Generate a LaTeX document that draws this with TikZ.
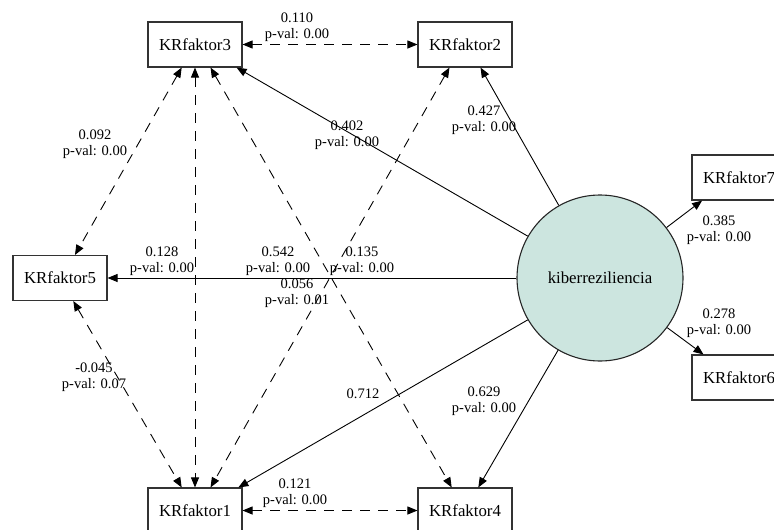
\documentclass[tikz,border=0pt]{standalone}
\usepackage{fontspec}
\setmainfont{Liberation Serif}
\usetikzlibrary{arrows.meta}
\definecolor{kibfill}{RGB}{204,229,223}

\begin{document}
\begin{tikzpicture}[
	x=1pt, y=-1pt,
	factor/.style={draw=black!80, line width=1.1pt, minimum width=94pt, minimum height=45pt, inner sep=0pt, font=\fontsize{16.8}{20}\selectfont},
	latent/.style={circle, draw=black!85, line width=1.1pt, fill=kibfill, minimum size=166pt, inner sep=0pt, font=\fontsize{16.8}{20}\selectfont},
	loading/.style={line width=0.9pt, -{Triangle[length=10pt,width=8pt]}},
	cov/.style={line width=0.9pt, dash pattern=on 10pt off 8pt, {Triangle[length=10pt,width=8pt]}-{Triangle[length=10pt,width=8pt]}},
	est/.style={align=center, inner sep=0pt, font=\fontsize{14.5}{16}\selectfont}
	]
	\useasboundingbox (0,0) rectangle (774,530);
	
	% --- NODI ---
	\node[latent] (kib) at (600,278) {kiberreziliencia};
	\node[factor] (kr3) at (195,44.5) {KRfaktor3};
	\node[factor] (kr2) at (465,44.5) {KRfaktor2};
	\node[factor] (kr5) at (60,278) {KRfaktor5};
	\node[factor] (kr1) at (195,510.5) {KRfaktor1};
	\node[factor] (kr4) at (465,510.5) {KRfaktor4};
	\node[factor] (kr7) at (739,177.5) {KRfaktor7};
	\node[factor] (kr6) at (739,377.5) {KRfaktor6};
	
	% --- CARICHI ---
	\draw[loading] (kib) -- (kr3.-29);
	\draw[loading] (kib) -- (kr2.-56);
	\draw[loading] (kib) -- (kr5);
	\draw[loading] (kib) -- (kr1.28);
	\draw[loading] (kib) -- (kr4.60);
	\draw[loading] (kib) -- (kr7.-148);
	\draw[loading] (kib) -- (kr6.147);
	
	% --- COVARIANZE ---
	\draw[cov] (kr3) -- (kr2);
	\draw[cov] (kr3.-120) -- (kr5.57);
	\draw[cov] (kr3) -- (kr1);
	\draw[cov] (kr3.-56) -- (kr4.120);
	\draw[cov] (kr2.-124) -- (kr1.56);
	\draw[cov] (kr5.-60) -- (kr1.120);
	\draw[cov] (kr1) -- (kr4);
	
	% --- ETICHETTE ---
	\node[est] (e32) at (297,27) {0.110\\p-val: 0.00};
	\node[est] (e35) at (95,144) {0.092\\p-val: 0.00};
	\node[est] (ek3) at (347,135) {0.402\\p-val: 0.00};
	\node[est] (ek2) at (484,120) {0.427\\p-val: 0.00};
	\node[est] (e31) at (162,261) {0.128\\p-val: 0.00};
	\node[est] (ek5) at (278,261) {0.542\\p-val: 0.00};
	\node[est] (e34) at (362,261) {0.135\\p-val: 0.00};
	\node[est] (e21) at (297,293.5) {0.056\\p-val: 0.01};
	\node[est] (ek7) at (719,230.5) {0.385\\p-val: 0.00};
	\node[est] (ek6) at (719,323.5) {0.278\\p-val: 0.00};
	\node[est] (e51) at (94,377.5) {-0.045\\p-val: 0.07};
	\node[est] (ek1) at (363,394) {0.712};
	\node[est] (ek4) at (484,401.5) {0.629\\p-val: 0.00};
	\node[est] (e14) at (295,493.5) {0.121\\p-val: 0.00};
	
\end{tikzpicture}
\end{document}
